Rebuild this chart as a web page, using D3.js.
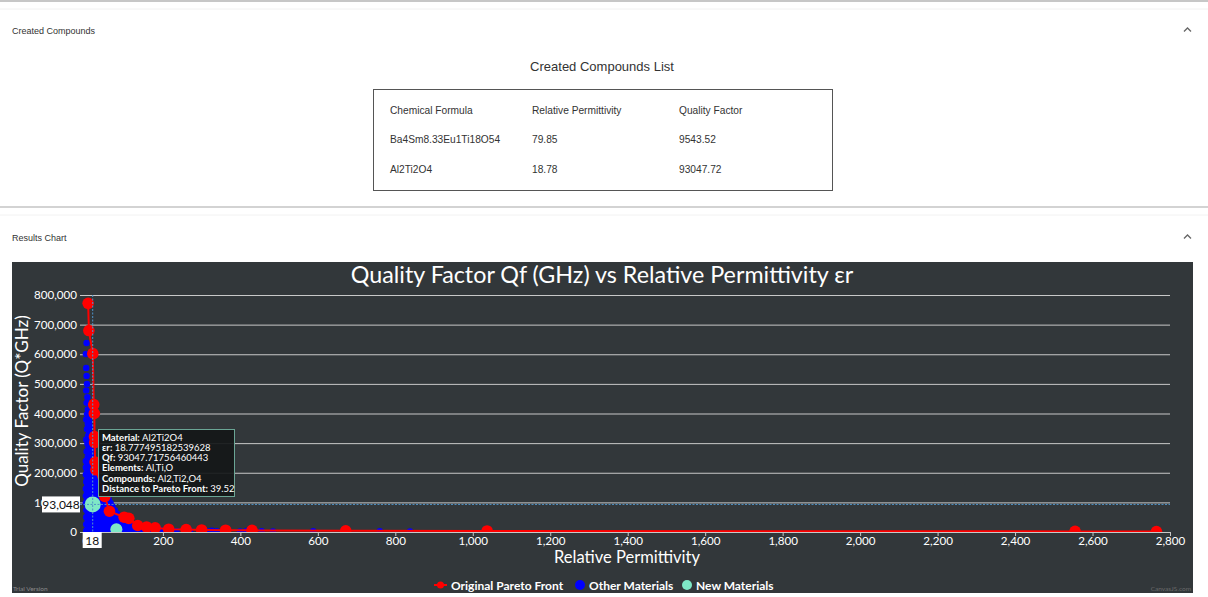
<!DOCTYPE html>
<html>
<head>
<meta charset="utf-8">
<script src="https://cdn.jsdelivr.net/npm/d3@7"></script>
<style>
  body { margin: 0; background: #fff; }
  svg { display: block; font-family: "Liberation Sans", Arial, sans-serif; }
</style>
</head>
<body>
<svg width="1208" height="597"></svg>
<script>
// ---- data ----
var tableHeaders = ["Chemical Formula", "Relative Permittivity", "Quality Factor"];
var newFormulas  = ["Ba4Sm8.33Eu1Ti18O54", "Al2Ti2O4"];
var newEr        = [79.85, 18.777495182539628];
var newQf        = [9543.52, 93047.71756460443];

var paretoEr = [7, 9, 19, 21.5, 23, 23.5, 24, 25, 27, 50, 62, 100, 112, 135, 158, 180, 215, 260, 300, 362, 430, 672, 1037, 2555, 2765];
var paretoQf = [772000, 680000, 602000, 430000, 400000, 322000, 302000, 236000, 210000, 120000, 70000, 50000, 46000, 22000, 17000, 14000, 9500, 8500, 7000, 6000, 5500, 4000, 3500, 2000, 1500];

// other materials, [er, qf]
var otherMaterials = [
  [3,638000],[1,601000],[2,554000],[3,527000],[4,500000],[2,478000],[5,455000],[3,436000],[6,414000],[4,398000],
  [8,388000],[2,380000],[10,372000],[6,365000],[12,356000],[4,348000],[9,340000],[14,333000],[7,325000],[11,318000],
  [2,312000],[16,305000],[5,298000],[13,292000],[8,285000],[18,279000],[3,272000],[11,266000],[15,260000],[6,254000],[20,248000],
  [1,240000],[8,240000],[15,240000],[22,240000],
  [4,230000],[11,230000],[18,230000],[26,230000],
  [1,218000],[7,218000],[14,218000],[21,218000],[28,218000],
  [4,206000],[10,206000],[17,206000],[24,206000],[31,206000],
  [1,194000],[8,194000],[14,194000],[21,194000],[28,194000],
  [5,182000],[11,182000],[18,182000],[25,182000],[33,182000],
  [2,170000],[8,170000],[15,170000],[22,170000],[29,170000],[36,170000],
  [5,158000],[12,158000],[19,158000],[26,158000],[33,158000],[40,158000],
  [1,146000],[8,146000],[15,146000],[22,146000],[30,146000],[38,146000],[45,146000],
  [4,134000],[11,134000],[18,134000],[26,134000],[34,134000],[42,134000],[50,134000],
  [1,122000],[8,122000],[15,122000],[23,122000],[31,122000],[39,122000],[47,122000],[55,122000],
  [4,110000],[12,110000],[20,110000],[28,110000],[36,110000],[44,110000],[52,110000],[60,110000],
  [1,98000],[9,98000],[17,98000],[25,98000],[33,98000],[41,98000],[49,98000],[57,98000],[65,98000],
  [5,86000],[13,86000],[21,86000],[29,86000],[37,86000],[45,86000],[53,86000],[62,86000],[70,86000],
  [2,74000],[10,74000],[18,74000],[26,74000],[34,74000],[42,74000],[50,74000],[58,74000],[67,74000],[76,74000],
  [6,62000],[14,62000],[22,62000],[30,62000],[38,62000],[46,62000],[54,62000],[63,62000],[72,62000],[82,62000],
  [2,50000],[10,50000],[18,50000],[26,50000],[34,50000],[43,50000],[52,50000],[61,50000],[70,50000],[80,50000],[90,50000],
  [6,38000],[14,38000],[22,38000],[30,38000],[39,38000],[48,38000],[57,38000],[66,38000],[76,38000],[86,38000],[96,38000],[106,38000],
  [2,26000],[10,26000],[18,26000],[27,26000],[36,26000],[45,26000],[54,26000],[64,26000],[74,26000],[84,26000],[95,26000],[106,26000],[117,26000],
  [6,14000],[14,14000],[23,14000],[32,14000],[41,14000],[50,14000],[60,14000],[70,14000],[81,14000],[92,14000],[103,14000],[115,14000],[127,14000],[140,14000],
  [2,4000],[11,4000],[20,4000],[29,4000],[38,4000],[48,4000],[58,4000],[68,4000],[79,4000],[90,4000],[101,4000],[113,4000],[125,4000],[138,4000],[152,4000],[166,4000],
  [178,3000],[196,5000],[235,2500],[270,3500],[316,2000],[326,4000],[339,2500],[365,3000],[399,2000],[416,3500],
  [455,2500],[484,2000],[588,2500],[760,3000],[838,2000]
];

var xTicks = [0, 200, 400, 600, 800, 1000, 1200, 1400, 1600, 1800, 2000, 2200, 2400, 2600, 2800];
var yTicks = [0, 100000, 200000, 300000, 400000, 500000, 600000, 700000, 800000];

var tipLabels = ["Material", "\u03b5r", "Qf", "Elements", "Compounds", "Distance to Pareto Front"];
var tipValues = ["Al2Ti2O4", "18.777495182539628", "93047.71756460443", "Al,Ti,O", "Al2,Ti2,O4", "39.52"];

var legendNames = ["Original Pareto Front", "Other Materials", "New Materials"];

// ---- page ----
var svg = d3.select("svg");
var chartFont = "Lato, 'Open Sans', sans-serif";

svg.append("line").attr("x1", 0).attr("x2", 1208).attr("y1", 1).attr("y2", 1)
  .attr("stroke", "#b5b5b5").attr("stroke-width", 1.5);
svg.append("line").attr("x1", 0).attr("x2", 1208).attr("y1", 9).attr("y2", 9)
  .attr("stroke", "#f2f2f2");
svg.append("line").attr("x1", 0).attr("x2", 1208).attr("y1", 207).attr("y2", 207)
  .attr("stroke", "#c4c4c4").attr("stroke-width", 1.5);
svg.append("line").attr("x1", 0).attr("x2", 1208).attr("y1", 215).attr("y2", 215)
  .attr("stroke", "#f2f2f2");

function header(txt, y) {
  svg.append("text").attr("x", 12).attr("y", y).attr("font-size", 9)
    .attr("fill", "#333").text(txt);
  svg.append("path").attr("d", "M1184," + (y - 2) + " L1187.5," + (y - 5.5) + " L1191," + (y - 2))
    .attr("fill", "none").attr("stroke", "#666").attr("stroke-width", 1.3);
}
header("Created Compounds", 33.5);
header("Results Chart", 240.5);

svg.append("text").attr("x", 602).attr("y", 71).attr("text-anchor", "middle")
  .attr("font-size", 13).attr("fill", "#333").text("Created Compounds List");

svg.append("rect").attr("x", 373.5).attr("y", 89.5).attr("width", 459).attr("height", 101)
  .attr("fill", "none").attr("stroke", "#555");

var colX = [390, 532, 679];
var tbl = svg.append("g").attr("font-size", 10.2).attr("fill", "#333");
tableHeaders.forEach(function(h, i) {
  tbl.append("text").attr("x", colX[i]).attr("y", 114).text(h);
});
newFormulas.forEach(function(f, r) {
  var y = 143 + r * 30;
  tbl.append("text").attr("x", colX[0]).attr("y", y).text(f);
  tbl.append("text").attr("x", colX[1]).attr("y", y).text(newEr[r].toFixed(2));
  tbl.append("text").attr("x", colX[2]).attr("y", y).text(newQf[r].toFixed(2));
});

// ---- chart ----
svg.append("rect").attr("x", 12).attr("y", 262).attr("width", 1181).attr("height", 331)
  .attr("fill", "#32373a");

var chart = svg.append("g").attr("font-family", chartFont);

var xScale = d3.scaleLinear().domain([-14, 2800]).range([80, 1170]);
var yScale = d3.scaleLinear().domain([0, 800000]).range([532, 295]);

chart.append("text").attr("x", 602).attr("y", 283).attr("text-anchor", "middle")
  .attr("font-size", 23.3).attr("fill", "#fff")
  .text("Quality Factor Qf (GHz) vs Relative Permittivity \u03b5r");

// y axis with grid
var yAxis = d3.axisLeft(yScale).tickValues(yTicks).tickFormat(d3.format(","))
  .tickSize(-(1170 - 80)).tickPadding(3);
var gY = chart.append("g").attr("transform", "translate(80,0)").call(yAxis);
gY.select(".domain").remove();
gY.selectAll("line").attr("stroke", "#c8c8c8").attr("stroke-width", 1);
gY.selectAll("text").attr("fill", "#fff").attr("font-size", 11.6).attr("font-family", chartFont);

var xAxis = d3.axisBottom(xScale).tickValues(xTicks).tickFormat(d3.format(","))
  .tickSize(4).tickSizeOuter(0).tickPadding(1);
var gX = chart.append("g").attr("transform", "translate(0,532)").call(xAxis);
gX.select(".domain").attr("stroke", "#c8c8c8");
gX.selectAll("line").attr("stroke", "#c8c8c8");
gX.selectAll("text").attr("fill", "#fff").attr("font-size", 11.6).attr("font-family", chartFont);

chart.append("text").attr("x", 627).attr("y", 563).attr("text-anchor", "middle")
  .attr("font-size", 16.5).attr("fill", "#fff").text("Relative Permittivity");
chart.append("text").attr("transform", "translate(28,401) rotate(-90)").attr("text-anchor", "middle")
  .attr("font-size", 17).attr("fill", "#fff").text("Quality Factor (Q*GHz)");

// clip to plot area
svg.append("defs").append("clipPath").attr("id", "clip")
  .append("rect").attr("x", 80).attr("y", 290).attr("width", 1092).attr("height", 242);

var plot = chart.append("g").attr("clip-path", "url(#clip)");

plot.selectAll("circle.other").data(otherMaterials).enter().append("circle")
  .attr("class", "other")
  .attr("cx", function(d) { return xScale(d[0]); })
  .attr("cy", function(d) { return yScale(d[1]); })
  .attr("r", 3.2).attr("fill", "#0000ff");

var pareto = paretoEr.map(function(e, i) { return [e, paretoQf[i]]; });
plot.append("path").datum(pareto)
  .attr("d", d3.line().x(function(d) { return xScale(d[0]); }).y(function(d) { return yScale(d[1]); }))
  .attr("fill", "none").attr("stroke", "#ff0000").attr("stroke-width", 2);
plot.selectAll("circle.pareto").data(pareto).enter().append("circle")
  .attr("class", "pareto")
  .attr("cx", function(d) { return xScale(d[0]); })
  .attr("cy", function(d) { return yScale(d[1]); })
  .attr("r", 5.8).attr("fill", "#ff0000");

var newPts = newEr.map(function(e, i) { return [e, newQf[i]]; });
plot.selectAll("circle.newm").data(newPts).enter().append("circle")
  .attr("class", "newm")
  .attr("cx", function(d) { return xScale(d[0]); })
  .attr("cy", function(d) { return yScale(d[1]); })
  .attr("r", function(d, i) { return i === 1 ? 8 : 6; })
  .attr("fill", "#7ee8c6");

// crosshair on the hovered new material
var hover = newPts[1];
var hx = xScale(hover[0]), hy = yScale(hover[1]);
chart.append("line").attr("x1", 80).attr("x2", 1170).attr("y1", hy).attr("y2", hy)
  .attr("stroke", "#4f93c8").attr("stroke-dasharray", "2,1.5").attr("stroke-width", 1);
chart.append("line").attr("x1", hx).attr("x2", hx).attr("y1", 295).attr("y2", 532)
  .attr("stroke", "#4f93c8").attr("stroke-dasharray", "2,1.5").attr("stroke-width", 1);

chart.append("rect").attr("x", 42).attr("y", hy - 8).attr("width", 38).attr("height", 16).attr("fill", "#fff");
chart.append("text").attr("x", 61).attr("y", hy + 4.5).attr("text-anchor", "middle")
  .attr("font-size", 12).attr("fill", "#111").text(d3.format(",")(Math.round(hover[1])));
chart.append("rect").attr("x", hx - 10).attr("y", 532).attr("width", 19).attr("height", 16).attr("fill", "#fff");
chart.append("text").attr("x", hx - 0.5).attr("y", 545).attr("text-anchor", "middle")
  .attr("font-size", 12).attr("fill", "#111").text(Math.floor(hover[0]));

// tooltip
var tip = chart.append("g").attr("transform", "translate(98,429)");
tip.append("rect").attr("x", 0.5).attr("y", 0.5).attr("width", 136).attr("height", 67)
  .attr("fill", "#141718").attr("fill-opacity", 0.92).attr("stroke", "#6aa595");
tipLabels.forEach(function(l, i) {
  var t = tip.append("text").attr("x", 4).attr("y", 11.5 + i * 10.3)
    .attr("font-size", 9.5).attr("fill", "#fff");
  t.append("tspan").attr("font-weight", "bold").text(l + ": ");
  t.append("tspan").text(tipValues[i]);
});

// legend
var legend = chart.append("g").attr("font-size", 12).attr("font-weight", "bold").attr("fill", "#fff");
var legX = [451, 589, 696];
legend.append("line").attr("x1", 434).attr("x2", 447).attr("y1", 585).attr("y2", 585)
  .attr("stroke", "#ff0000").attr("stroke-width", 2);
legend.append("circle").attr("cx", 440.5).attr("cy", 585).attr("r", 3.5).attr("fill", "#ff0000");
legend.append("circle").attr("cx", 580).attr("cy", 585).attr("r", 5).attr("fill", "#0000ff");
legend.append("circle").attr("cx", 687).attr("cy", 585).attr("r", 5).attr("fill", "#7ee8c6");
legendNames.forEach(function(n, i) {
  legend.append("text").attr("x", legX[i]).attr("y", 589.5).text(n);
});

chart.append("text").attr("x", 13).attr("y", 591).attr("font-size", 6.5).attr("fill", "#8a8a8a").text("Trial Version");
chart.append("text").attr("x", 1191).attr("y", 591).attr("text-anchor", "end")
  .attr("font-size", 6.5).attr("fill", "#6a6a6a").text("CanvasJS.com");
</script>
</body>
</html>
